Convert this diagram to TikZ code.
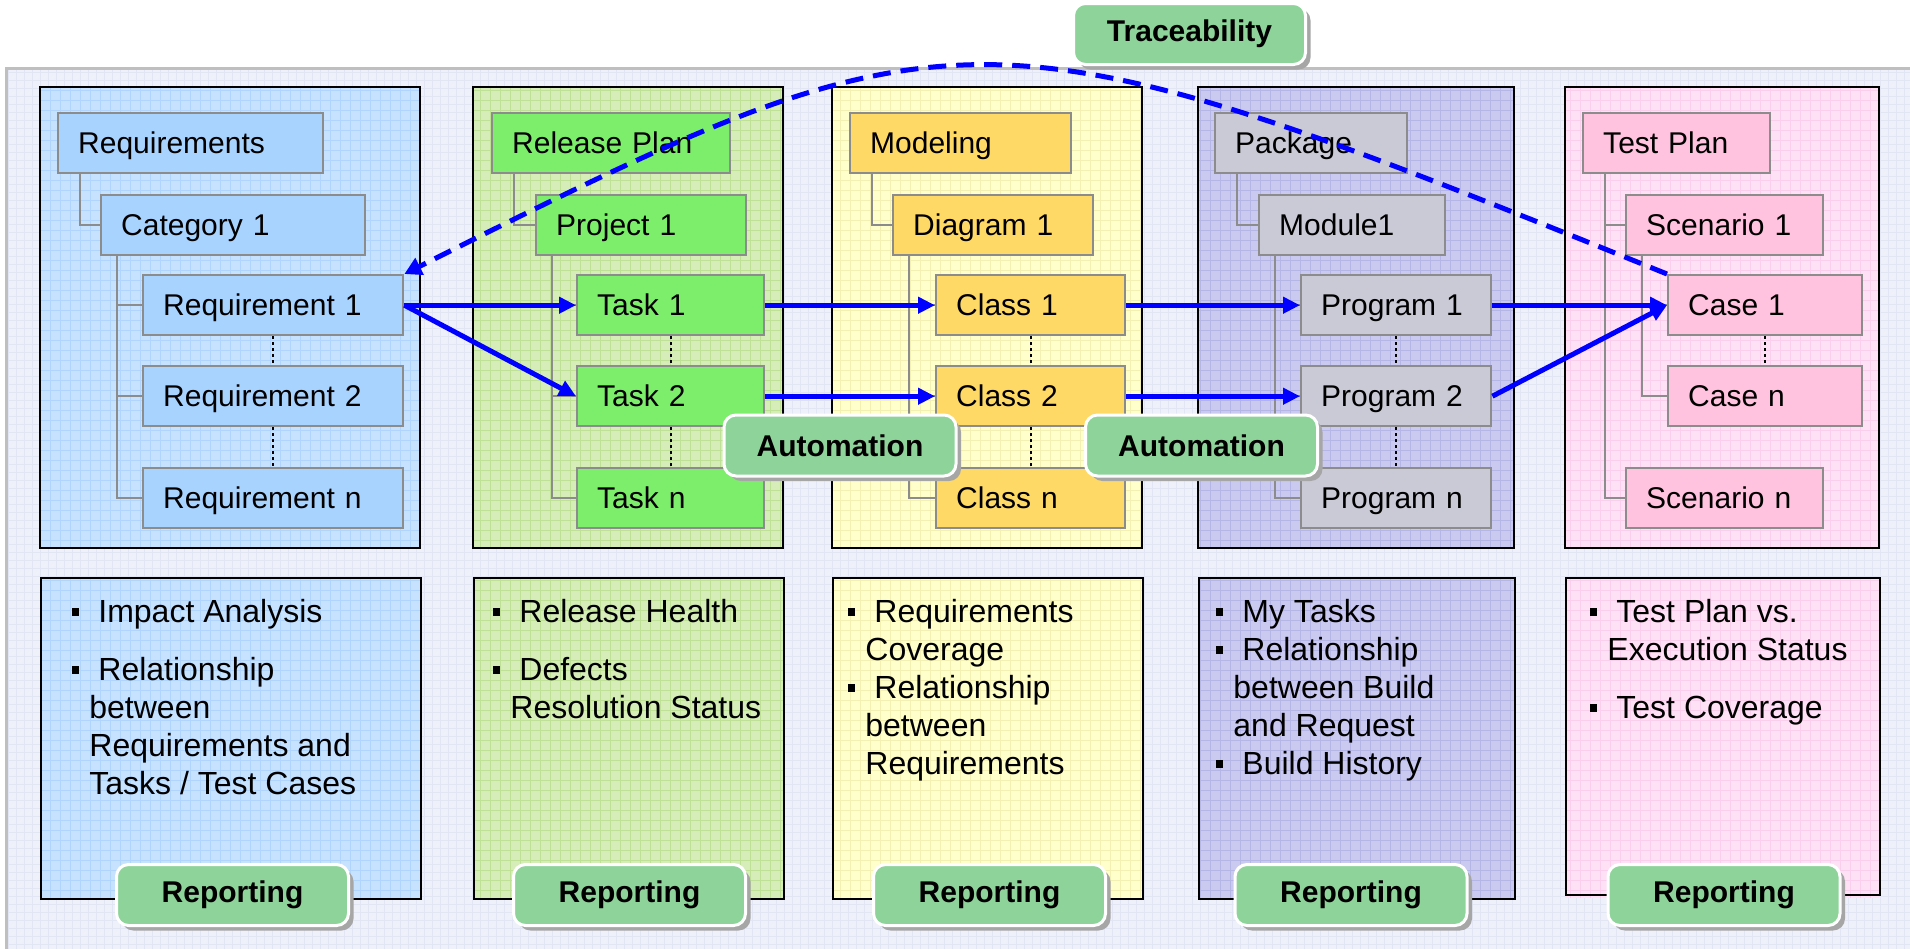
\documentclass[tikz,border=0pt]{standalone}
\usepackage{fontspec}
\setmainfont{Liberation Sans}
\usepackage{tikz}
\usetikzlibrary{arrows.meta,positioning,calc,shadows}

\definecolor{bgfill}{HTML}{EEF0FA}
\definecolor{bggrid}{HTML}{E2E5F4}
\definecolor{reqback}{HTML}{C6E2FF}
\definecolor{reqgrid}{HTML}{AFD5FF}
\definecolor{reqitem}{HTML}{A9D3FF}
\definecolor{relback}{HTML}{D6EDB9}
\definecolor{relgrid}{HTML}{BEE196}
\definecolor{relitem}{HTML}{7DEE6B}
\definecolor{modback}{HTML}{FFFFCC}
\definecolor{modgrid}{HTML}{F4F0B4}
\definecolor{moditem}{HTML}{FFD966}
\definecolor{pkgback}{HTML}{CACAF0}
\definecolor{pkggrid}{HTML}{B6B6E6}
\definecolor{pkgitem}{HTML}{CACAD6}
\definecolor{tstback}{HTML}{FFE1F5}
\definecolor{tstgrid}{HTML}{FACEEC}
\definecolor{tstitem}{HTML}{FFC2DF}
\definecolor{linegray}{HTML}{8C8C8C}
\definecolor{flowblue}{HTML}{0000FF}
\definecolor{lblgreen}{HTML}{8ED49A}

\newcommand{\bitem}{\rule[3.5pt]{3.5pt}{4pt}\hspace{9.5pt}}
\newcommand{\bcont}{\hspace*{8.5pt}}

\tikzset{
  gridlines/.style={draw=#1, line width=0.4pt},
  colbox/.style={draw=black, line width=1pt},
  item/.style={
    rectangle, draw=linegray, line width=1.2pt, fill=#1,
    anchor=north west, minimum height=30pt,
    inner xsep=10pt, inner ysep=0pt, align=left,
    text height=10.5pt, text depth=0pt,
    font=\fontsize{15}{18}\selectfont
  },
  treeline/.style={draw=linegray, line width=1pt},
  dotline/.style={draw=black, line width=1.2pt, dash pattern=on 1.5pt off 1.5pt},
  flow/.style={
    -{Triangle[length=8.5pt,width=8pt]}, draw=flowblue, line width=2.5pt
  },
  trace/.style={
    -{Triangle[length=8.5pt,width=9pt]}, draw=flowblue, line width=2.5pt,
    dash pattern=on 9pt off 5pt
  },
  badge/.style={
    rectangle, rounded corners=6pt, fill=lblgreen, draw=white, line width=1.5pt,
    minimum width=116pt, minimum height=30.5pt,
    font=\fontsize{15}{18}\selectfont\bfseries,
    drop shadow={shadow xshift=2.5pt, shadow yshift=-2.5pt, fill=black!35, opacity=1}
  },
  bullets/.style={anchor=north west, align=left, inner sep=0pt,
    font=\fontsize{16}{19}\selectfont},
}

\begin{document}
\begin{tikzpicture}[x=0.5pt, y=-0.5pt]
  \useasboundingbox (0,0) rectangle (1910,949);

  % background panel
  \fill[bgfill] (6,68) rectangle (1910,949);
  \draw[gridlines=bggrid, step=4pt] (6,949) grid (1910,68);
  \draw[gray!50, line width=1.5pt] (6,949) -- (6,68) -- (1910,68);

  % column panels, top and bottom
  \foreach \xa/\xb/\bk/\gr in {40/420/reqback/reqgrid, 473/783/relback/relgrid,
      832/1142/modback/modgrid, 1198/1514/pkgback/pkggrid, 1565/1879/tstback/tstgrid} {
    \fill[\bk] (\xa,87) rectangle (\xb,548);
    \draw[gridlines=\gr, step=5pt] (\xa,548) grid (\xb,87);
    \draw[colbox] (\xa,87) rectangle (\xb,548);
    \fill[\bk] (\xa,577) rectangle (\xb,898);
    \draw[gridlines=\gr, step=5pt] (\xa,898) grid (\xb,577);
  }
  \node[colbox, inner sep=0pt, minimum width=190pt, minimum height=160.5pt, anchor=north west] (rep1box) at (40,577) {};
  \node[colbox, inner sep=0pt, minimum width=155pt, minimum height=160.5pt, anchor=north west] (rep2box) at (473,577) {};
  \node[colbox, inner sep=0pt, minimum width=155pt, minimum height=160.5pt, anchor=north west] (rep3box) at (832,577) {};
  \node[colbox, inner sep=0pt, minimum width=158pt, minimum height=160.5pt, anchor=north west] (rep4box) at (1198,577) {};
  \node[colbox, inner sep=0pt, minimum width=157pt, minimum height=158.5pt, anchor=north west] (rep5box) at (1565,577) {};

  % requirements
  \node[item=reqitem, text width=112.5pt] (reqs) at (57,112) {Requirements};
  \node[item=reqitem, text width=112pt] (cat1) at (100,194) {Category 1};
  \node[item=reqitem, text width=110pt] (req1) at (142,274) {Requirement 1};
  \node[item=reqitem, text width=110pt] (req2) at (142,365) {Requirement 2};
  \node[item=reqitem, text width=110pt] (reqn) at (142,467) {Requirement n};

  % release plan
  \node[item=relitem, text width=99pt] (relplan) at (491,112) {Release Plan};
  \node[item=relitem, text width=85pt] (proj1) at (535,194) {Project 1};
  \node[item=relitem, text width=73.5pt] (task1) at (576,274) {Task 1};
  \node[item=relitem, text width=73.5pt] (task2) at (576,365) {Task 2};
  \node[item=relitem, text width=73.5pt] (taskn) at (576,467) {Task n};

  % modeling
  \node[item=moditem, text width=90.5pt] (modeling) at (849,112) {Modeling};
  \node[item=moditem, text width=80pt] (diag1) at (892,194) {Diagram 1};
  \node[item=moditem, text width=74.5pt] (class1) at (935,274) {Class 1};
  \node[item=moditem, text width=74.5pt] (class2) at (935,365) {Class 2};
  \node[item=moditem, text width=74.5pt] (classn) at (935,467) {Class n};

  % package
  \node[item=pkgitem, text width=76pt] (package) at (1214,112) {Package};
  \node[item=pkgitem, text width=73pt] (module1) at (1258,194) {Module1};
  \node[item=pkgitem, text width=75pt] (prog1) at (1300,274) {Program 1};
  \node[item=pkgitem, text width=75pt] (prog2) at (1300,365) {Program 2};
  \node[item=pkgitem, text width=75pt] (progn) at (1300,467) {Program n};

  % test plan
  \node[item=tstitem, text width=73.5pt] (testplan) at (1582,112) {Test Plan};
  \node[item=tstitem, text width=78.5pt] (scen1) at (1625,194) {Scenario 1};
  \node[item=tstitem, text width=77pt] (case1) at (1667,274) {Case 1};
  \node[item=tstitem, text width=77pt] (casen) at (1667,365) {Case n};
  \node[item=tstitem, text width=78.5pt] (scenn) at (1625,467) {Scenario n};

  % tree lines
  \foreach \p/\c in {reqs/cat1, relplan/proj1, modeling/diag1, package/module1,
      testplan/scen1, testplan/scenn} {
    \draw[treeline] ([xshift=11.5pt]\p.south west) |- (\c.west);
  }
  \foreach \p/\c in {cat1/req1, cat1/req2, cat1/reqn, proj1/task1, proj1/task2,
      proj1/taskn, diag1/class1, diag1/class2, diag1/classn, module1/prog1,
      module1/prog2, module1/progn, scen1/case1, scen1/casen} {
    \draw[treeline] ([xshift=8.5pt]\p.south west) |- (\c.west);
  }
  \foreach \a/\b in {req1/req2, req2/reqn, task1/task2, task2/taskn, class1/class2,
      class2/classn, prog1/prog2, prog2/progn, case1/casen} {
    \draw[dotline] (\a.south) -- (\b.north);
  }

  % links
  \foreach \a/\b in {req1/task1, req1/task2, task1/class1, task2/class2,
      class1/prog1, class2/prog2, prog1/case1, prog2/case1} {
    \draw[flow] (\a.east) -- (\b.west);
  }
  \draw[trace] (case1.north west) .. controls (979,-4) and (958,-4) .. (req1.north east);

  % reports
  \node[bullets] (rep1txt) at (72,599) {\bitem Impact Analysis\\[10pt]
    \bitem Relationship\\\bcont between\\\bcont Requirements and\\\bcont Tasks / Test Cases};
  \node[bullets] (rep2txt) at (493,599) {\bitem Release Health\\[10pt]
    \bitem Defects\\\bcont Resolution Status};
  \node[bullets] (rep3txt) at (848,599) {\bitem Requirements\\\bcont Coverage\\
    \bitem Relationship\\\bcont between\\\bcont Requirements};
  \node[bullets] (rep4txt) at (1216,599) {\bitem My Tasks\\\bitem Relationship\\
    \bcont between Build\\\bcont and Request\\\bitem Build History};
  \node[bullets] (rep5txt) at (1590,599) {\bitem Test Plan vs.\\\bcont Execution Status\\[10pt]
    \bitem Test Coverage};

  % badges
  \node[badge] (trace) at (1189.5,34) {Traceability};
  \node[badge] (auto1) at (840,445.5) {Automation};
  \node[badge] (auto2) at (1201.5,445.5) {Automation};
  \foreach \rp/\x in {rep1/232.5, rep2/629.5, rep3/989.5, rep4/1351, rep5/1724} {
    \node[badge] (\rp lbl) at (\x,895) {Reporting};
  }
\end{tikzpicture}
\end{document}
